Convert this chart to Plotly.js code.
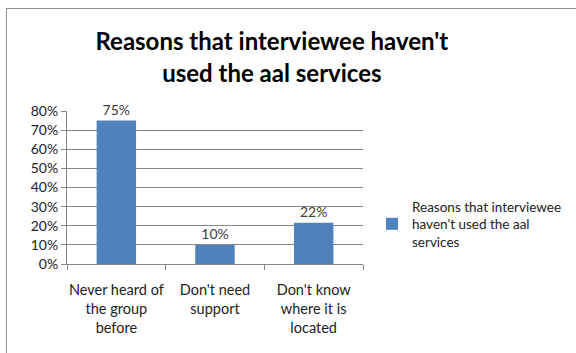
<!DOCTYPE html>
<html><head><meta charset="utf-8">
<script src="https://cdn.plot.ly/plotly-3.0.1.min.js"></script>
<style>
html,body{margin:0;padding:0;background:#fff;}
#wrap{position:relative;width:576px;height:353px;overflow:hidden;}
#chart{position:absolute;left:0;top:0;width:576px;height:353px;}
#frame{position:absolute;left:6px;top:8px;width:620px;height:400px;border:1px solid #8c8c8c;pointer-events:none;}
</style></head>
<body><div id="wrap"><div id="chart"></div><div id="frame"></div></div>
<script>
const categories = ["Never heard of<br>the group<br>before", "Don't need<br>support", "Don't know<br>where it is<br>located"];
const values = [0.75, 0.10, 0.216];
const seriesName = "Reasons that interviewee<br>haven't used the aal<br>services";
const titleText = "Reasons that interviewee haven't<br>used the aal services";
const yTicks = [0,0.1,0.2,0.3,0.4,0.5,0.6,0.7,0.8];

const F = "Lato, 'Open Sans', sans-serif";
const trace = {
  type: 'bar', x: categories, y: values, name: seriesName,
  marker: {color: '#4F81BD'}, width: 0.4,
  text: values.map(v => Math.round(v*100) + '%'), textposition: 'outside',
  textfont: {family: F, size: 14, color: '#404040'}, cliponaxis: false,
  showlegend: true, hoverinfo: 'none'
};
const layout = {
  width: 576, height: 353,
  margin: {l: 67, r: 213, t: 111, b: 89},
  paper_bgcolor: '#fff', plot_bgcolor: '#fff',
  font: {family: F, size: 14, color: '#222'},
  title: {text: titleText, font: {family: F, size: 24, color: '#000', weight: 'bold'},
          x: 0.472, xref: 'container', xanchor: 'center', y: 0.857, yref: 'container', yanchor: 'top'},
  xaxis: {type: 'category', showline: true, linecolor: '#868686', ticks: 'outside', ticklen: 5,
          tickcolor: '#868686', tickson: 'boundaries', showgrid: false, tickangle: 0,
          ticklabelstandoff: 13,
          tickfont: {family: F, size: 14.5, color: '#222'}},
  yaxis: {range: [0, 0.8], tickvals: yTicks, tickformat: '.0%', showline: true, linecolor: '#868686',
          ticks: 'outside', ticklen: 5, tickcolor: '#868686', gridcolor: '#868686', gridwidth: 1,
          zeroline: false, tickfont: {family: F, size: 14, color: '#222'}},
  legend: {x: 372/576, xref: 'container', y: 1 - 224/353, yref: 'container', yanchor: 'middle', xanchor: 'left',
           font: {family: F, size: 13.5, color: '#222'}, itemwidth: 30, bgcolor: 'rgba(0,0,0,0)'},
  showlegend: true
};
Plotly.newPlot('chart', [trace], layout, {staticPlot: true});
</script></body></html>
